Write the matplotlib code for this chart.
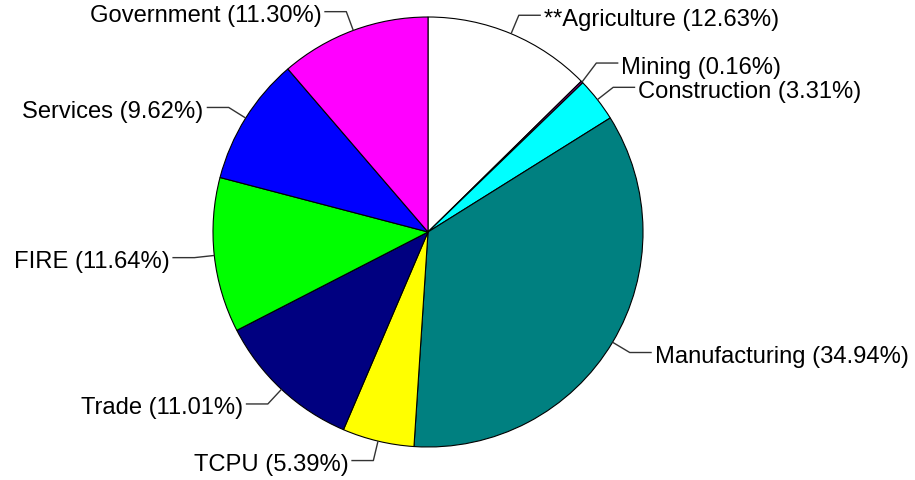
import matplotlib

matplotlib.use("Agg")

import matplotlib.pyplot as plt
import numpy as np

plt.rcParams["font.family"] = ["Liberation Sans", "DejaVu Sans"]

sectors = ["**Agriculture", "Mining", "Construction", "Manufacturing", "TCPU",
           "Trade", "FIRE", "Services", "Government"]
shares = [12.63, 0.16, 3.31, 34.94, 5.39, 11.01, 11.64, 9.62, 11.30]
colors = ["#FFFFFF", "#800080", "#00FFFF", "#008080", "#FFFF00",
          "#000080", "#00FF00", "#0000FF", "#FF00FF"]

# pixel-based layout
W, H = 915, 481
cx, cy, R = 428, 481 - 233, 215

fig = plt.figure(figsize=(W / 100, H / 100), dpi=100)
ax = fig.add_axes([0, 0, 1, 1])

wedges, _ = ax.pie(
    shares,
    colors=colors,
    startangle=90,
    counterclock=False,
    center=(cx, cy),
    radius=R,
    wedgeprops={"edgecolor": "black", "linewidth": 0.8},
)
ax.set_xlim(0, W)
ax.set_ylim(0, H)
ax.set_aspect("equal")
ax.axis("off")

# small nudges so labels don't crowd
y_nudge = {"Mining": 5}

for wedge, name, value in zip(wedges, sectors, shares):
    theta = np.deg2rad((wedge.theta1 + wedge.theta2) / 2)
    c, s = np.cos(theta), np.sin(theta)
    x0, y0 = cx + R * c, cy + R * s
    x1, y1 = cx + 1.093 * R * c, cy + 1.093 * R * s + y_nudge.get(name, 0)
    side = 1 if c >= 0 else -1
    x2 = x1 + side * 22
    ax.plot([x0, x1, x2], [y0, y1, y1], color="#333333", lw=1.0, solid_capstyle="butt")
    ax.text(
        x2 + side * 3,
        y1 - 3.5,
        f"{name} ({value:.2f}%)",
        ha="left" if side > 0 else "right",
        va="center",
        fontsize=17.1,
        color="black",
    )

fig.savefig("out.png", dpi=100)
